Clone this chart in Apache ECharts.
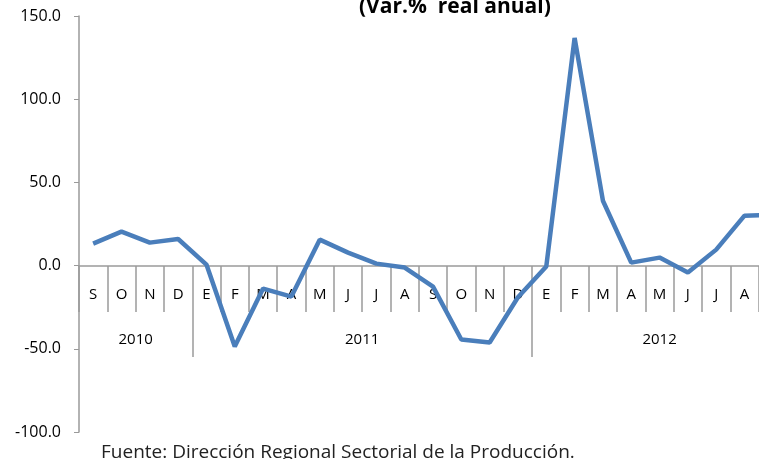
<!DOCTYPE html>
<html>
<head>
<meta charset="utf-8">
<script src="https://cdn.jsdelivr.net/npm/echarts@6/dist/echarts.min.js"></script>
<style>
    html, body { margin: 0; padding: 0; background: #fff; }
    #chart { width: 759px; height: 459px; }
</style>
</head>
<body>
<div id="chart"></div>
<script>
    // meses (el último, S 2012, queda fuera del recorte)
    var months = ['S','O','N','D','E','F','M','A','M','J','J','A','S','O','N','D','E','F','M','A','M','J','J','A','S'];
    var values = [13.2, 20.4, 13.8, 16.0, 0.6, -48.6, -13.8, -18.6, 15.6, 7.8, 1.2, -1.2, -12.6, -44.4, -46.2, -19.0, -0.5, 136.8, 39.0, 1.8, 4.8, -4.2, 9.6, 30.0, 30.5];
    // eje de años: medio-mes por posición (51 puntos, boundaryGap false)
    var years = ['2010', '2011', '2012'];
    var yearPos = [4, 20, 41];      // centro de cada año
    var yearBreaks = [8, 32];       // separadores entre años
    var yTicks = [-100, -50, 0, 50, 100, 150];

    var yearData = [];
    for (var i = 0; i <= months.length * 2; i++) {
        var k = yearPos.indexOf(i);
        yearData.push(k >= 0 ? years[k] : '');
    }

    var font = '"Open Sans", Lato, sans-serif';
    var axisGray = '#9a9a9a';
    // el eje de categorías va sobre el 0 (416 px para 250 unidades)
    var zeroOffset = -Math.round(416 * 100 / 250);

    var myChart = echarts.init(document.getElementById('chart'));
    myChart.setOption({
        animation: false,
        title: [
            {
                text: '(Var.%  real anual)',
                left: 354,
                top: -8,
                textStyle: { fontFamily: font, fontSize: 21, fontWeight: 'bold', color: '#000' }
            },
            {
                text: 'Fuente: Dirección Regional Sectorial de la Producción.',
                left: 96,
                top: 438,
                textStyle: { fontFamily: font, fontSize: 19, fontWeight: 'normal', color: '#222' }
            }
        ],
        grid: {
            left: 79,
            right: -28,
            top: 16,
            bottom: 27,
            containLabel: false,
            outerBoundsMode: 'none'
        },
        xAxis: [
            {
                type: 'category',
                position: 'bottom',
                offset: zeroOffset,
                data: months,
                axisLine: { onZero: false, lineStyle: { color: axisGray, width: 1.5 } },
                axisTick: { show: true, interval: 0, length: 46, lineStyle: { color: axisGray, width: 1.5 } },
                axisLabel: { interval: 0, margin: 21, fontFamily: font, fontSize: 15, color: '#000' },
                splitLine: { show: false }
            },
            {
                type: 'category',
                position: 'bottom',
                offset: zeroOffset,
                boundaryGap: false,
                data: yearData,
                axisLine: { show: false, onZero: false },
                axisTick: {
                    show: true,
                    length: 91,
                    interval: function (index) { return yearBreaks.indexOf(index) >= 0; },
                    lineStyle: { color: axisGray, width: 1.5 }
                },
                axisLabel: {
                    interval: function (index, value) { return value !== ''; },
                    margin: 66,
                    fontFamily: font,
                    fontSize: 15,
                    color: '#000'
                },
                splitLine: { show: false }
            }
        ],
        yAxis: {
            type: 'value',
            min: yTicks[0],
            max: yTicks[yTicks.length - 1],
            interval: 50,
            axisLine: { show: true, lineStyle: { color: axisGray, width: 1.5 } },
            axisTick: { show: true, length: 5, lineStyle: { color: axisGray } },
            axisLabel: {
                margin: 18,
                fontFamily: font,
                fontSize: 16,
                color: '#000',
                formatter: function (v) { return v.toFixed(1); }
            },
            splitLine: { show: false }
        },
        series: [
            {
                type: 'line',
                xAxisIndex: 0,
                data: values,
                symbol: 'none',
                lineStyle: { color: '#4a7ebb', width: 4.5 },
                itemStyle: { color: '#4a7ebb' }
            }
        ]
    });
</script>
</body>
</html>
